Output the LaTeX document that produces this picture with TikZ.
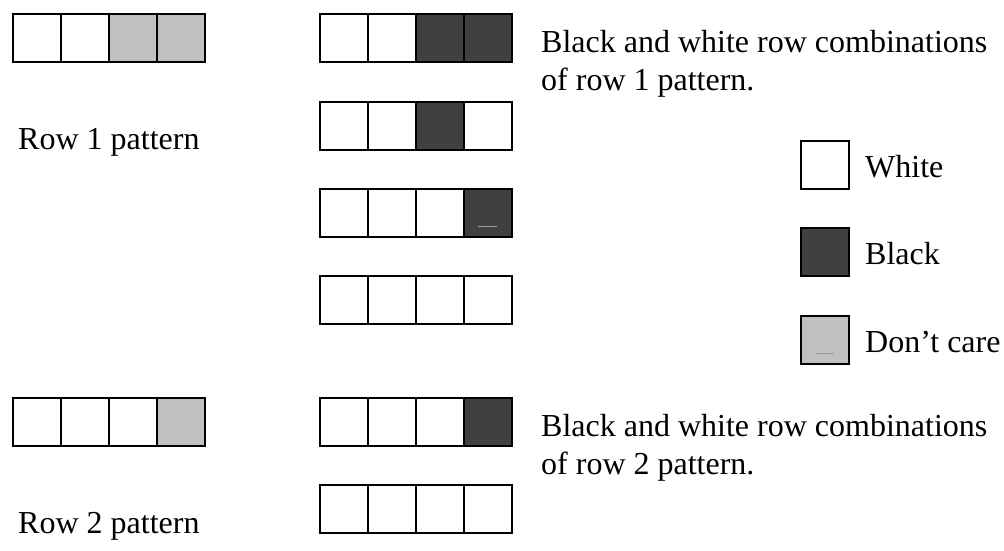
\documentclass[tikz,border=0pt]{standalone}
\usepackage{fontspec}
\setmainfont{Liberation Serif}
\definecolor{dk}{HTML}{404040}
\definecolor{lt}{HTML}{C0C0C0}
\definecolor{dash}{HTML}{9A9A9A}
\tikzset{
  cell/.style={draw=black, line width=2pt, minimum width=48pt, minimum height=48pt, inner sep=0pt, outer sep=0pt},
  lbl/.style={anchor=base west, inner sep=0pt, font=\fontsize{32}{38}\selectfont},
  mark line/.style={draw=dash, line width=1pt}
}
% name, x, y, fill1, fill2, fill3, fill4
\newcommand\patrow[7]{%
  \node[cell, fill=#4] (#1c1) at (#2+24, #3+24) {};
  \node[cell, fill=#5] (#1c2) at (#2+72, #3+24) {};
  \node[cell, fill=#6] (#1c3) at (#2+120, #3+24) {};
  \node[cell, fill=#7] (#1c4) at (#2+168, #3+24) {};
}
\begin{document}
\begin{tikzpicture}[x=1pt, y=-1pt]
\useasboundingbox (0,0) rectangle (1004,550);
% row 1 pattern and combinations
\patrow{pa}{13}{14}{white}{white}{lt}{lt}
\patrow{ca}{320}{14}{white}{white}{dk}{dk}
\patrow{cb}{320}{102}{white}{white}{dk}{white}
\patrow{cc}{320}{189}{white}{white}{white}{dk}
\patrow{cd}{320}{276}{white}{white}{white}{white}
% row 2 pattern and combinations
\patrow{pb}{13}{398}{white}{white}{white}{lt}
\patrow{ce}{320}{398}{white}{white}{white}{dk}
\patrow{cf}{320}{485}{white}{white}{white}{white}
% small marks
\coordinate (m1a) at (478,226);
\coordinate (m1b) at (497,226);
\draw[mark line] (m1a) -- (m1b);
% legend
\node[cell, fill=white] (lw) at (825,165) {};
\node[cell, fill=dk] (lb) at (825,252) {};
\node[cell, fill=lt] (ll) at (825,340) {};
\coordinate (m2a) at (816,353);
\coordinate (m2b) at (834,353);
\draw[mark line] (m2a) -- (m2b);
\node[lbl] (tw) at (865,177) {White};
\node[lbl] (tb) at (865,264) {Black};
\node[lbl] (tl) at (865,352) {Don’t care};
% texts
\node[lbl] (t1) at (18,149) {Row 1 pattern};
\node[lbl] (t2) at (18,533) {Row 2 pattern};
\node[lbl] (d1a) at (541,52) {Black and white row combinations};
\node[lbl] (d1b) at (541,90) {of row 1 pattern.};
\node[lbl] (d2a) at (541,436) {Black and white row combinations};
\node[lbl] (d2b) at (541,474) {of row 2 pattern.};
\end{tikzpicture}
\end{document}
